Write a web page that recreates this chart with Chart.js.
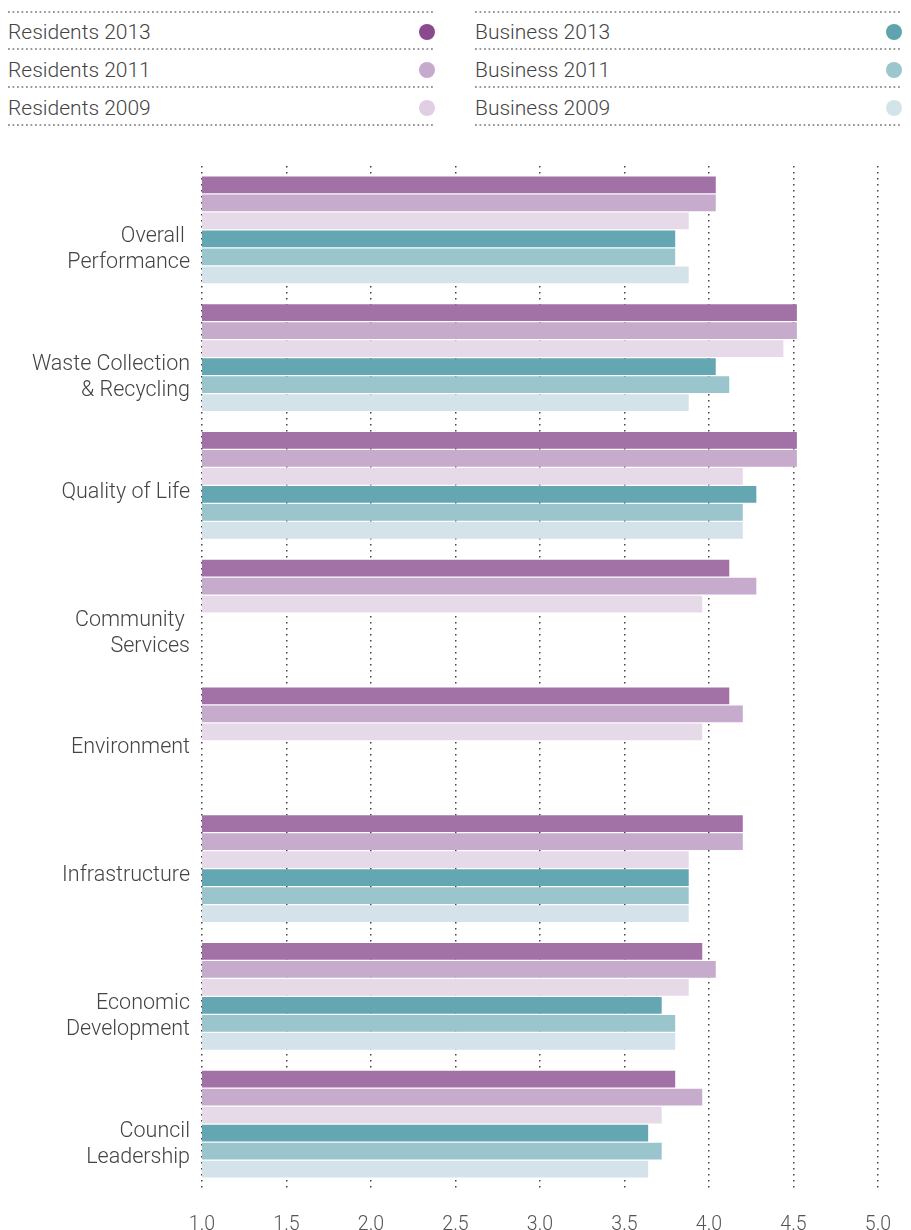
<!DOCTYPE html>
<html>
<head>
<meta charset="utf-8">
<script src="https://cdn.jsdelivr.net/npm/chart.js@4/dist/chart.umd.min.js"></script>
<style>
  html, body { margin: 0; padding: 0; background: #fff; }
  body { width: 911px; height: 1230px; position: relative; overflow: hidden;
         font-family: "Roboto", "Liberation Sans", sans-serif; font-weight: 300; color: #444; }
  .legend { position: absolute; top: 11px; width: 427px; }
  .legend.left { left: 8px; }
  .legend.right { left: 475px; }
  .row { position: relative; height: 38px; }
  .dots { position: absolute; left: 0; right: 0; height: 2px;
          background-image: linear-gradient(to right, #9a9a9a 1.5px, transparent 1.5px);
          background-size: 4.5px 2px; background-repeat: repeat-x; }
  .row .txt { position: absolute; left: 0; top: 8px; font-size: 21px; line-height: 26px; }
  .row .dot { position: absolute; right: 0; top: 13px; width: 16px; height: 16px; border-radius: 50%; }
  #wrap { position: absolute; left: 0; top: 140px; width: 911px; height: 1090px; }
</style>
</head>
<body>
<div class="legend left" id="legL"></div>
<div class="legend right" id="legR"></div>
<div id="wrap"><canvas id="c" width="911" height="1090"></canvas></div>
<script>
// ---- data ----
const categories = [
  ["", "Overall ", "Performance"],
  ["", "Waste Collection", "& Recycling"],
  ["Quality of Life"],
  ["", "Community ", "Services"],
  ["Environment"],
  ["Infrastructure"],
  ["", "Economic", "Development"],
  ["", "Council", "Leadership"]
];
const seriesNames = ["Residents 2013", "Residents 2011", "Residents 2009", "Business 2013", "Business 2011", "Business 2009"];
const residents2013 = [4.04, 4.52, 4.52, 4.12, 4.12, 4.20, 3.96, 3.80];
const residents2011 = [4.04, 4.52, 4.52, 4.28, 4.20, 4.20, 4.04, 3.96];
const residents2009 = [3.88, 4.44, 4.20, 3.96, 3.96, 3.88, 3.88, 3.72];
const business2013  = [3.80, 4.04, 4.28, null, null, 3.88, 3.72, 3.64];
const business2011  = [3.80, 4.12, 4.20, null, null, 3.88, 3.80, 3.72];
const business2009  = [3.88, 3.88, 4.20, null, null, 3.88, 3.80, 3.64];
const xTickLabels = ["1.0", "1.5", "2.0", "2.5", "3.0", "3.5", "4.0", "4.5", "5.0"];

// ---- styles ----
const barColors = ["#a271a6", "#c6abcc", "#e6d9e8", "#64a7b2", "#9bc5cc", "#d3e3e9"];
const dotColors = ["#8b4a8d", "#c5aacd", "#e0cee3", "#5fa3ae", "#9bc6cb", "#d3e4e8"];
const seriesData = [residents2013, residents2011, residents2009, business2013, business2011, business2009];

// ---- legend (HTML) ----
function buildLegend(el, idxs) {
  let html = '<div class="dots" style="top:0"></div>';
  idxs.forEach((i) => {
    html += '<div class="row"><span class="txt">' + seriesNames[i] + '</span>' +
            '<span class="dot" style="background:' + dotColors[i] + '"></span>' +
            '<div class="dots" style="bottom:-1px"></div></div>';
  });
  el.innerHTML = html;
}
buildLegend(document.getElementById('legL'), [0, 1, 2]);
buildLegend(document.getElementById('legR'), [3, 4, 5]);

// ---- chart ----
const FONT = '"Roboto", "Liberation Sans", sans-serif';
new Chart(document.getElementById('c'), {
  type: 'bar',
  data: {
    labels: categories,
    datasets: seriesNames.map((n, i) => ({
      label: n,
      data: seriesData[i],
      backgroundColor: barColors[i],
      borderWidth: 0,
      barPercentage: 0.92,
      categoryPercentage: 0.845
    }))
  },
  options: {
    indexAxis: 'y',
    responsive: false,
    animation: false,
    layout: { padding: { top: 26, right: 33, left: 0, bottom: 0 } },
    plugins: { legend: { display: false }, tooltip: { enabled: false } },
    scales: {
      x: {
        min: 1, max: 5,
        ticks: {
          stepSize: 0.5,
          padding: 25,
          color: '#555',
          font: { family: FONT, size: 19.5, weight: 300 },
          callback: (v, i) => xTickLabels[i]
        },
        grid: { color: '#444', lineWidth: 1.5, drawTicks: false },
        border: { display: false, dash: [1.5, 4.5] },
        afterFit: s => { s.height = 42; s.paddingLeft = 0; s.paddingRight = 0; }
      },
      y: {
        ticks: {
          padding: 12,
          color: '#444',
          labelOffset: 7,
          font: { family: FONT, size: 21.5, weight: 300, lineHeight: 1.21 }
        },
        grid: { display: false, drawTicks: false },
        border: { display: false },
        afterFit: s => { s.width = 202; s.paddingTop = 0; s.paddingBottom = 0; }
      }
    }
  }
});
</script>
</body>
</html>
